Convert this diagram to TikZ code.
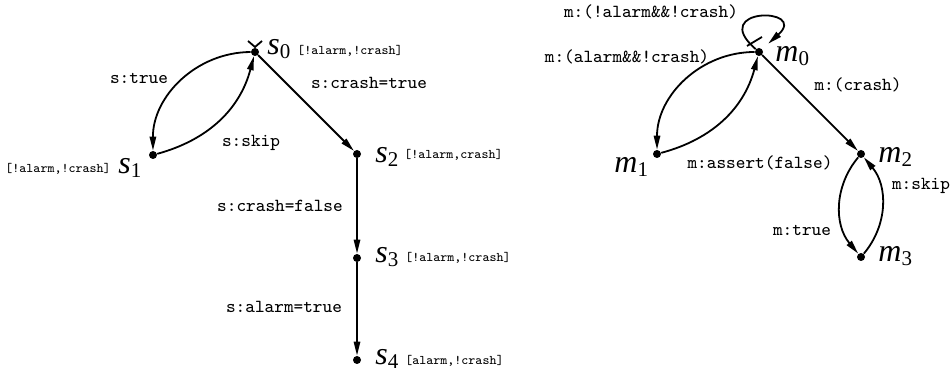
\documentclass[tikz,border=0pt]{standalone}
\usepackage{fontspec}
\setmainfont{Liberation Serif}
\usetikzlibrary{arrows.meta}

\newcommand{\stn}[2]{\textit{#1}\raisebox{-2pt}{\fontsize{10.5}{11}\selectfont #2}}

\tikzset{
        dot/.style={circle,fill,inner sep=0pt,minimum size=4pt},
        trans/.style={line width=0.9pt,-{Triangle[length=7pt,width=3.2pt]}},
        elab/.style={font=\fontsize{9.2}{10}\ttfamily,inner sep=0pt},
        prop/.style={font=\fontsize{6.6}{7}\ttfamily,inner sep=0pt},
        stname/.style={font=\fontsize{16}{17}\selectfont,inner sep=0pt}
}

\begin{document}
\begin{tikzpicture}[x=0.5pt,y=0.5pt]
        \useasboundingbox (0,0) rectangle (951,373);

        \foreach \n/\x/\y in {s0/255/321,s1/153/218,s2/357/219,s3/357/115,s4/357/13,
                              m0/759/321,m1/657/219,m2/861/219,m3/861/116}
            \node[dot] (\n) at (\x,\y) {};

        \draw[line width=0.9pt] ([shift={(-7,11)}]s0.center) -- ([shift={(0,5)}]s0.center) -- ([shift={(7,11)}]s0.center);
        \draw[line width=0.9pt] ([shift={(-12,6)}]m0.center) -- ([shift={(3,15)}]m0.center);

        \draw[trans] (s0) to[bend right=45] (s1);
        \draw[trans] (s1) to[bend right=30] (s0);
        \draw[trans] (s0) -- (s2);
        \draw[trans] (s2) -- (s3);
        \draw[trans] (s3) -- (s4);

        \draw[trans,shorten >=4pt] (m0) .. controls ([shift={(-52,45)}]m0.center) and ([shift={(50,45)}]m0.center) .. (m0);
        \draw[trans] (m0) to[bend right=45] (m1);
        \draw[trans] (m1) to[bend right=30] (m0);
        \draw[trans] (m0) -- (m2);
        \draw[trans] (m2) to[bend right=40] (m3);
        \draw[trans] (m3) to[bend right=40] (m2);

        \node[stname,anchor=base west] (s0n) at (267,318) {\stn{s}{0}};
        \node[stname,anchor=base west] (s1n) at (118,199) {\stn{s}{1}};
        \node[stname,anchor=base west] (s2n) at (375,210) {\stn{s}{2}};
        \node[stname,anchor=base west] (s3n) at (375,110) {\stn{s}{3}};
        \node[stname,anchor=base west] (s4n) at (375,8) {\stn{s}{4}};

        \node[prop,anchor=west] (s0p) at (297,322) {[!alarm,!crash]};
        \node[prop,anchor=east] (s1p) at (111,204) {[!alarm,!crash]};
        \node[prop,anchor=west] (s2p) at (404,218) {[!alarm,crash]};
        \node[prop,anchor=west] (s3p) at (405,115) {[!alarm,!crash]};
        \node[prop,anchor=west] (s4p) at (405,12) {[alarm,!crash]};

        \node[stname,anchor=base west] (m0n) at (775,311) {\stn{m}{0}};
        \node[stname,anchor=base west] (m1n) at (614,200) {\stn{m}{1}};
        \node[stname,anchor=base west] (m2n) at (878,210) {\stn{m}{2}};
        \node[stname,anchor=base west] (m3n) at (878,111) {\stn{m}{3}};

        \node[elab] (strue) at (139,295) {s:true};
        \node[elab] (sskip) at (251,230) {s:skip};
        \node[elab] (scrt) at (369,290) {s:crash=true};
        \node[elab] (scrf) at (280,167) {s:crash=false};
        \node[elab] (salt) at (284,66) {s:alarm=true};

        \node[elab] (mloop) at (651,361) {m:(!alarm\&\&!crash)};
        \node[elab] (malarm) at (627,316) {m:(alarm\&\&!crash)};
        \node[elab] (mcrash) at (858,288) {m:(crash)};
        \node[elab] (massert) at (760,210) {m:assert(false)};
        \node[elab] (mskip) at (921,187) {m:skip};
        \node[elab] (mtrue) at (802,143) {m:true};

    \end{tikzpicture}
\end{document}
